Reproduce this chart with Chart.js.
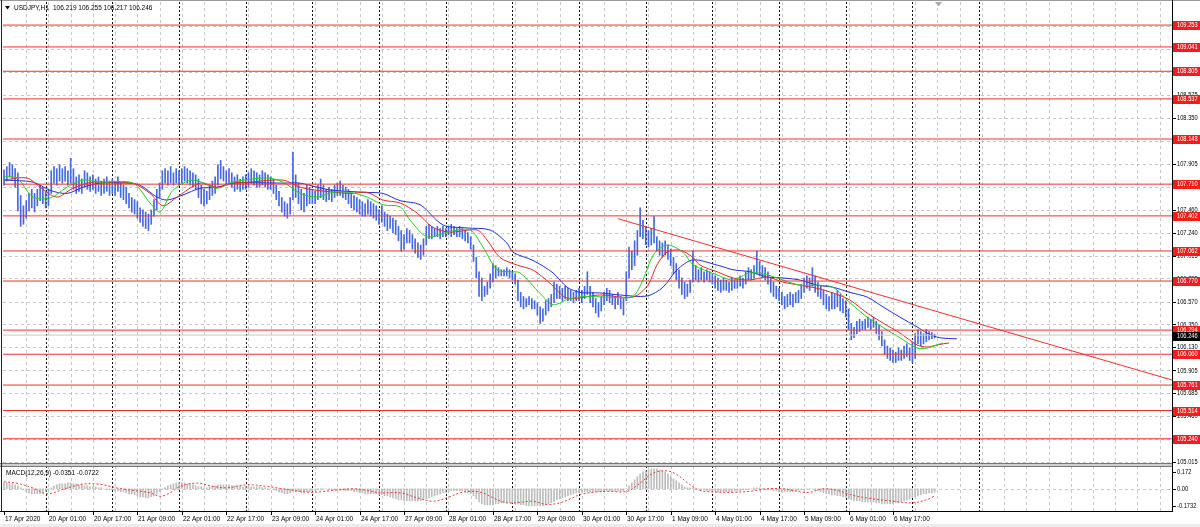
<!DOCTYPE html>
<html><head><meta charset="utf-8">
<script src="https://cdn.jsdelivr.net/npm/chart.js@4.4.1/dist/chart.umd.min.js"></script>
<style>
html,body{margin:0;padding:0;background:#fff;width:1200px;height:527px;overflow:hidden}
canvas{position:absolute;left:0;top:0}
</style></head><body>
<canvas id="main" width="1200" height="527"></canvas>
<canvas id="macd" width="1200" height="527"></canvas>
<script>
// ---------- DATA (H1 bars, index 0 = 17 Apr 2020 09:00) ----------
const symbolTitle = 'USDJPY,H1';
const lastOHLC = '106.219 106.255 106.217 106.246';
const macdTitle = 'MACD(12,26,9) -0.0351 -0.0722';

const highs = [
 107.85,107.88,107.92,107.90,107.86,107.82,107.60,107.50,107.55,107.62,107.66,107.62,107.66,107.70,107.68,
 107.64,107.66,107.84,107.88,107.86,107.90,107.86,107.88,107.84,107.96,107.86,107.78,107.80,107.76,107.84,107.82,107.78,107.80,107.76,107.78,107.74,107.76,107.78,107.74,
 107.76,107.74,107.78,107.72,107.70,107.68,107.62,107.58,107.56,107.54,107.48,107.46,107.44,107.42,107.46,107.56,107.66,107.72,107.84,107.86,107.84,107.88,107.82,107.86,
 107.84,107.86,107.88,107.86,107.84,107.82,107.80,107.76,107.70,107.66,107.64,107.70,107.74,107.78,107.90,107.94,107.88,107.84,107.86,107.82,107.78,107.80,107.76,107.78,
 107.80,107.82,107.86,107.84,107.82,107.80,107.84,107.82,107.80,107.78,107.76,107.70,107.64,107.58,107.54,107.52,107.58,108.02,107.80,107.72,107.66,107.62,107.70,107.68,
 107.66,107.64,107.70,107.76,107.70,107.66,107.68,107.66,107.70,107.72,107.74,107.70,107.68,107.66,107.62,107.60,107.58,107.56,107.54,107.52,107.56,107.54,107.52,107.50,
 107.46,107.50,107.44,107.42,107.40,107.38,107.36,107.30,107.26,107.22,107.28,107.26,107.22,107.18,107.14,107.12,107.18,107.30,107.32,107.30,107.28,107.30,107.28,107.30,
 107.28,107.30,107.32,107.30,107.28,107.30,107.28,107.26,107.24,107.20,107.12,107.00,106.86,106.80,106.72,106.76,106.84,106.94,106.92,106.90,106.88,106.88,106.90,106.88,
 106.86,106.84,106.78,106.66,106.62,106.60,106.62,106.60,106.58,106.56,106.52,106.50,106.58,106.60,106.64,106.76,106.74,106.72,106.70,106.72,106.70,106.68,106.66,106.68,
 106.70,106.68,106.72,106.86,106.72,106.66,106.60,106.56,106.62,106.66,106.70,106.68,106.64,106.62,106.66,106.62,106.60,106.86,107.10,107.06,107.16,107.26,107.48,107.36,
 107.30,107.26,107.28,107.40,107.20,107.16,107.14,107.16,107.12,107.08,107.00,106.94,106.88,106.80,106.76,106.74,106.78,107.06,106.92,106.88,106.90,106.86,106.88,106.86,
 106.84,106.82,106.80,106.78,106.80,106.78,106.76,106.80,106.78,106.80,106.82,106.80,106.86,106.90,106.88,106.92,107.06,106.96,106.92,106.90,106.86,106.80,106.76,106.72,
 106.70,106.66,106.62,106.64,106.66,106.64,106.66,106.68,106.74,106.80,106.82,106.80,106.90,106.82,106.76,106.72,106.68,106.64,106.62,106.66,106.64,106.68,106.64,106.60,
 106.58,106.50,106.36,106.32,106.38,106.40,106.38,106.40,106.42,106.40,106.42,106.38,106.34,106.28,106.20,106.14,106.12,106.10,106.08,106.12,106.10,106.14,106.16,106.12,
 106.18,106.26,106.30,106.28,106.26,106.30,106.28,106.27,106.255
];
const lows = [
 107.70,107.74,107.78,107.76,107.68,107.45,107.30,107.32,107.38,107.45,107.48,107.44,107.50,107.55,107.52,
 107.48,107.50,107.62,107.72,107.70,107.74,107.72,107.74,107.70,107.72,107.66,107.62,107.64,107.62,107.68,107.66,107.64,107.66,107.62,107.64,107.60,107.62,107.64,107.60,
 107.62,107.60,107.64,107.58,107.56,107.52,107.48,107.44,107.42,107.38,107.34,107.30,107.28,107.26,107.32,107.40,107.46,107.58,107.66,107.72,107.70,107.72,107.70,107.72,
 107.70,107.72,107.74,107.72,107.70,107.68,107.66,107.58,107.52,107.50,107.52,107.56,107.60,107.62,107.70,107.76,107.74,107.70,107.72,107.68,107.64,107.66,107.64,107.66,
 107.66,107.68,107.72,107.70,107.68,107.68,107.70,107.68,107.66,107.66,107.62,107.56,107.50,107.44,107.40,107.38,107.42,107.56,107.58,107.52,107.46,107.44,107.50,107.52,
 107.52,107.52,107.56,107.58,107.56,107.54,107.56,107.54,107.58,107.60,107.60,107.58,107.56,107.52,107.48,107.46,107.44,107.42,107.40,107.40,107.42,107.40,107.38,107.36,
 107.32,107.34,107.30,107.26,107.28,107.24,107.22,107.16,107.06,107.08,107.14,107.14,107.08,107.04,107.00,106.98,107.02,107.12,107.18,107.18,107.20,107.20,107.18,107.20,
 107.20,107.22,107.20,107.22,107.20,107.20,107.18,107.16,107.14,107.08,106.96,106.80,106.62,106.58,106.62,106.64,106.70,106.76,106.80,106.82,106.82,106.82,106.82,106.80,
 106.78,106.74,106.58,106.52,106.50,106.52,106.54,106.50,106.50,106.44,106.36,106.38,106.44,106.48,106.52,106.56,106.60,106.60,106.58,106.60,106.58,106.58,106.56,106.58,
 106.58,106.56,106.60,106.64,106.56,106.52,106.46,106.42,106.48,106.54,106.58,106.56,106.54,106.50,106.54,106.50,106.44,106.58,106.80,106.88,106.92,107.02,107.20,107.18,
 107.12,107.10,107.12,107.14,107.06,107.02,107.00,107.02,106.98,106.92,106.84,106.78,106.70,106.64,106.60,106.62,106.66,106.76,106.78,106.76,106.78,106.76,106.78,106.76,
 106.74,106.70,106.68,106.66,106.68,106.68,106.66,106.68,106.70,106.70,106.72,106.70,106.74,106.78,106.78,106.80,106.84,106.82,106.80,106.78,106.74,106.66,106.62,106.60,
 106.58,106.54,106.50,106.52,106.54,106.52,106.56,106.56,106.60,106.66,106.70,106.68,106.72,106.66,106.62,106.60,106.54,106.50,106.48,106.50,106.50,106.52,106.48,106.46,
 106.42,106.30,106.20,106.22,106.26,106.28,106.30,106.30,106.32,106.30,106.32,106.26,106.20,106.14,106.06,106.02,106.00,105.98,105.98,106.00,106.00,106.02,106.04,106.00,
 105.98,106.02,106.16,106.14,106.16,106.18,106.20,106.21,106.217
];

// Alligator (bar index, price)
const jawK = [0,10.4,16.6,22.7,28.4,34.6,44.3,49,55,58.7,64.4,70.6,76.7,82.4,100.4,106.6,112.7,118.4,130.7,136.4,142.6,149.8,158,166.7,175,181,183.2,190.4,197.6,202.7,207.3,214.5,221.7,231.5,237.2,242.3,248,256.7,262.4,268.5,274.7,280.4,286.5,292.7,298.4,304.5,310.7,316.4,322.5,328.7,332.3,336.9,343];
const jawV = [107.75,107.73,107.65,107.62,107.68,107.72,107.72,107.70,107.585,107.556,107.605,107.67,107.68,107.72,107.72,107.72,107.68,107.65,107.63,107.62,107.55,107.51,107.315,107.285,107.265,107.14,107.05,106.97,106.85,106.71,106.66,106.655,106.635,106.625,106.71,106.88,106.975,106.925,106.88,106.86,106.81,106.80,106.78,106.73,106.71,106.66,106.615,106.52,106.42,106.325,106.265,106.22,106.21];
const teethK = [0,8.3,13,19,24.8,32,40.7,46.4,52.6,57.2,62.3,70.6,76.7,82.4,88.6,100.4,106.6,112.7,124.5,130.7,136.4,142.6,148.7,154.4,160.5,170.3,173.9,178.5,184.7,190.4,196.5,202.7,214.5,226.4,231.8,235,238.7,243.3,248,250.5,256.7,262.4,268.5,274.7,280.4,286.5,292.7,298.4,304.5,310.7,316.4,322.5,328.7,332.3,335.9,340.2];
const teethV = [107.75,107.77,107.68,107.585,107.67,107.73,107.72,107.72,107.62,107.50,107.585,107.72,107.68,107.72,107.73,107.75,107.68,107.65,107.62,107.63,107.556,107.527,107.43,107.29,107.245,107.265,107.168,107.00,106.925,106.877,106.75,106.605,106.635,106.615,106.73,106.925,107.05,107.07,107.00,106.925,106.86,106.80,106.78,106.81,106.76,106.73,106.70,106.655,106.586,106.46,106.363,106.266,106.15,106.13,106.15,106.17];
const lipsK = [0,4.7,10.4,16.6,22.7,28.4,34.6,46.4,52.6,56.2,60.8,68,76.7,82.4,94.7,100.4,106.6,112.7,118.4,124.5,130.7,136.4,142.6,146.2,152.3,160.5,167.8,172.4,177.5,182.1,185.7,193,197.6,202.7,208.4,220.7,226.4,230,233.9,238.7,244.4,248,256.7,262.4,268.5,274.7,280.4,286.5,292.7,298.4,304.5,310.7,316.4,322.5,328.7,332.3,335.9,338];
const lipsV = [107.78,107.77,107.585,107.576,107.68,107.75,107.73,107.72,107.527,107.44,107.65,107.75,107.67,107.73,107.77,107.73,107.62,107.585,107.63,107.63,107.585,107.51,107.49,107.36,107.20,107.25,107.265,107.10,106.88,106.86,106.85,106.65,106.54,106.59,106.62,106.61,106.62,106.78,107.03,107.12,107.05,106.93,106.83,106.78,106.85,106.83,106.78,106.73,106.73,106.71,106.56,106.42,106.32,106.22,106.12,106.12,106.15,106.17];

// Horizontal levels, trend line and current price
const levels = [109.253,109.041,108.805,108.537,108.148,107.710,107.402,107.062,106.770,106.294,106.060,105.761,105.514,105.240];
const levelLabels = ['109.253','109.041','108.805','108.537','108.148','107.710','107.402','107.062','106.770','106.294','106.060','105.761','105.514','105.240'];
const currentPrice = 106.246;
const currentLabel = '106.246';
const trendK = [221, 420.45];
const trendV = [107.375, 105.81];

// MACD histogram (one value per bar) and signal line
const macdVals = [
 0.06,0.06,0.05,0.05,0.04,0.03,0.01,-0.01,
 -0.03,-0.04,-0.05,-0.05,-0.05,-0.05,-0.04,-0.03,
 -0.01,0.01,0.03,0.04,0.05,0.05,0.05,0.06,
 0.06,0.05,0.05,0.04,0.04,0.03,0.03,0.02,
 0.02,0.02,0.01,0.01,0.00,0.00,-0.01,-0.01,
 -0.02,-0.02,-0.03,-0.03,-0.04,-0.05,-0.05,-0.06,
 -0.07,-0.08,-0.08,-0.09,-0.09,-0.08,-0.07,-0.05,
 -0.03,-0.01,0.01,0.03,0.04,0.05,0.06,0.06,
 0.06,0.06,0.05,0.05,0.04,0.03,0.02,0.02,
 0.01,0.01,0.02,0.03,0.03,0.04,0.04,0.04,
 0.04,0.04,0.03,0.03,0.03,0.03,0.02,0.02,
 0.02,0.02,0.02,0.02,0.02,0.01,0.01,0.00,
 0.00,-0.01,-0.02,-0.03,-0.04,-0.05,-0.05,-0.04,
 -0.02,-0.03,-0.03,-0.04,-0.04,-0.03,-0.03,-0.02,
 -0.02,-0.01,-0.01,0.00,0.00,0.00,-0.01,-0.01,
 -0.01,-0.01,-0.01,-0.02,-0.02,-0.02,-0.03,-0.03,
 -0.04,-0.04,-0.05,-0.05,-0.05,-0.05,-0.05,-0.06,
 -0.06,-0.07,-0.07,-0.08,-0.09,-0.10,-0.11,-0.11,
 -0.12,-0.12,-0.12,-0.12,-0.12,-0.12,-0.12,-0.11,
 -0.10,-0.09,-0.08,-0.07,-0.06,-0.05,-0.04,-0.04,
 -0.03,-0.02,-0.02,-0.02,-0.02,-0.02,-0.03,-0.04,
 -0.05,-0.07,-0.10,-0.13,-0.15,-0.16,-0.16,-0.16,
 -0.16,-0.15,-0.15,-0.14,-0.14,-0.14,-0.14,-0.14,
 -0.15,-0.15,-0.16,-0.16,-0.17,-0.17,-0.17,-0.17,
 -0.17,-0.17,-0.17,-0.16,-0.15,-0.14,-0.13,-0.11,
 -0.10,-0.09,-0.08,-0.07,-0.06,-0.05,-0.04,-0.04,
 -0.03,-0.03,-0.03,-0.03,-0.03,-0.03,-0.03,-0.03,
 -0.03,-0.02,-0.02,-0.02,-0.02,-0.02,-0.02,-0.02,
 0.00,0.03,0.06,0.09,0.12,0.15,0.17,0.18,
 0.19,0.20,0.20,0.20,0.19,0.18,0.17,0.15,
 0.13,0.10,0.08,0.06,0.04,0.02,0.01,0.01,
 0.01,0.00,0.00,-0.01,-0.01,-0.02,-0.02,-0.02,
 -0.02,-0.03,-0.03,-0.03,-0.03,-0.03,-0.03,-0.02,
 -0.02,-0.02,-0.01,-0.01,0.00,0.00,0.01,0.01,
 0.01,0.00,0.00,-0.01,-0.01,-0.02,-0.02,-0.03,
 -0.03,-0.03,-0.03,-0.03,-0.03,-0.02,-0.02,-0.01,
 -0.01,0.00,0.00,0.00,-0.01,-0.02,-0.03,-0.04,
 -0.05,-0.05,-0.06,-0.06,-0.07,-0.07,-0.08,-0.09,
 -0.10,-0.11,-0.12,-0.12,-0.12,-0.13,-0.13,-0.13,
 -0.13,-0.13,-0.14,-0.14,-0.15,-0.15,-0.15,-0.15,
 -0.15,-0.14,-0.14,-0.13,-0.12,-0.11,-0.10,-0.09,
 -0.08,-0.07,-0.06,-0.05,-0.05,-0.04,-0.04,-0.035
];
const sigK = [0,4.7,10.4,15.5,22.7,28.4,34.6,40.7,46.4,52.6,56.2,59.8,63.4,69.5,75.2,80.3,87.5,94.7,100.4,106.6,111.2,118.4,125.6,130.7,135.3,142.6,148.7,154.4,159.5,164.1,168.8,172.4,176,181,185.7,190.4,195.5,200.1,204.8,207.3,212,217.1,224.3,229,233.6,238.7,242.3,247,250.5,256.7,262.4,268.5,274.7,280.4,286.5,290.1,294.8,299.9,305.6,312.8,320,327.2,332.3,335];
const sigV = [0.07,0.055,0.008,-0.05,0.008,0.047,0.045,0.008,-0.016,-0.04,-0.075,-0.04,0.024,0.057,0.024,0.01,0.04,0.024,0,-0.025,-0.035,-0.017,0,-0.016,-0.04,-0.041,-0.09,-0.124,-0.09,-0.041,-0.025,-0.041,-0.09,-0.14,-0.135,-0.124,-0.157,-0.14,-0.09,-0.057,-0.035,-0.025,-0.025,0.057,0.156,0.18,0.14,0.04,-0.016,-0.033,-0.035,-0.025,0,0,-0.03,-0.035,0,-0.016,-0.066,-0.1,-0.124,-0.14,-0.107,-0.0722];

// Axis ticks
const priceTicks = [105.015,105.240,105.460,105.685,105.905,106.130,106.350,106.570,106.795,107.015,107.240,107.460,107.685,107.905,108.130,108.350,108.575,108.795,109.020,109.240];
const priceTickLabels = ['105.015','105.240','105.460','105.685','105.905','106.130','106.350','106.570','106.795','107.015','107.240','107.460','107.685','107.905','108.130','108.350','108.575','108.795','109.020','109.240'];
const macdTicks = [0.172, 0, -0.1732];
const macdTickLabels = ['0.172','0.00','-0.1732'];
const timeK = [0,16,32,48,64,80,96,112,128,144,160,176,192,208,224,240,256,272,288,304,320];
const timeLabels = ['17 Apr 2020','20 Apr 01:00','20 Apr 17:00','21 Apr 09:00','22 Apr 01:00','22 Apr 17:00','23 Apr 09:00','24 Apr 01:00','24 Apr 17:00','27 Apr 09:00','28 Apr 01:00','28 Apr 17:00','29 Apr 09:00','30 Apr 01:00','30 Apr 17:00','1 May 09:00','4 May 01:00','4 May 17:00','5 May 09:00','6 May 01:00','6 May 17:00'];
const daySepK = [15,39,63,87,111,135,159,183,207,231,255,279,303,327,351];
const gridK = [8,16,24,32,40,48,56,64,72,80,88,96,104,112,120,128,136,144,152,160,168,176,184,192,200,208,216,224,232,240,248,256,264,272,280,288,296,304,312,320,328,336,344,352,360,368,376,384,392,400,408,416];

// ---------- rendering ----------
const X_MIN = -0.36, X_MAX = 420.45;
const Y_MIN = 105.005, Y_MAX = 109.477;
const M_MIN = -0.222, M_MAX = 0.228;
const FONT = '6.5px "Liberation Sans", Arial, sans-serif';
const GRID = '#c6c6c6';
const RIGHT = 1172;

function vline(ctx,x,y0,y1,color,dash){ctx.save();ctx.beginPath();ctx.setLineDash(dash||[]);ctx.strokeStyle=color;ctx.lineWidth=1;const xx=Math.round(x)+0.5;ctx.moveTo(xx,y0);ctx.lineTo(xx,y1);ctx.stroke();ctx.restore();}
function hline(ctx,y,x0,x1,color,dash){ctx.save();ctx.beginPath();ctx.setLineDash(dash||[]);ctx.strokeStyle=color;ctx.lineWidth=1;const yy=Math.round(y)+0.5;ctx.moveTo(x0,yy);ctx.lineTo(x1,yy);ctx.stroke();ctx.restore();}
function text(ctx,s,x,y,color,align,sx){ctx.save();ctx.font=FONT;ctx.fillStyle=color||'#000';ctx.textAlign=align||'left';ctx.textBaseline='middle';ctx.translate(x,y);ctx.scale(sx||1,1);ctx.fillText(s,0,0);ctx.restore();}
const pts = (ks,vs)=>ks.map((k,i)=>({x:k,y:vs[i]}));
const AX = 0.88; // narrower right-axis digits

const mainDecor = {
  id:'mainDecor',
  beforeDatasetsDraw(chart){
    const {ctx, chartArea:a, scales:{x,y}} = chart;
    priceTicks.forEach(v=>{const p=y.getPixelForValue(v); if(p>a.top && p<a.bottom) hline(ctx,p,a.left,a.right,GRID,[3,3]);});
    gridK.forEach(k=>vline(ctx,x.getPixelForValue(k),a.top,a.bottom,GRID,[3,3]));
    daySepK.forEach(k=>vline(ctx,x.getPixelForValue(k),a.top,a.bottom,'#111',[2,2]));
  },
  afterDraw(chart){
    const {ctx, chartArea:a, scales:{x,y}} = chart;
    ctx.save();
    ctx.fillStyle='#fff'; ctx.fillRect(RIGHT+1,0,1200-RIGHT-1,464);
    ctx.fillStyle='#9a9a9a'; ctx.fillRect(0,0,1200,1);
    ctx.fillStyle='#222'; ctx.fillRect(1,0,1,512);
    ctx.fillStyle='#000'; ctx.fillRect(RIGHT,0,1,512);
    priceTicks.forEach((v,i)=>{const p=y.getPixelForValue(v); ctx.fillStyle='#000'; ctx.fillRect(RIGHT+1,Math.round(p),3,1); text(ctx,priceTickLabels[i],RIGHT+5,p+0.5,'#000','left',AX);});
    levels.forEach((v,i)=>{const p=Math.round(y.getPixelForValue(v)); ctx.fillStyle='#f41c1c'; ctx.fillRect(RIGHT+1,p-4,28,9); text(ctx,levelLabels[i],RIGHT+5,p+0.5,'#fff','left',AX);});
    const cp=Math.round(y.getPixelForValue(currentPrice)); ctx.fillStyle='#000'; ctx.fillRect(RIGHT+1,cp-3,28,9); text(ctx,currentLabel,RIGHT+5,cp+1.5,'#fff','left',AX);
    // header
    ctx.fillStyle='#111'; ctx.beginPath(); ctx.moveTo(5,6); ctx.lineTo(10,6); ctx.lineTo(7.5,9.5); ctx.closePath(); ctx.fill();
    text(ctx,symbolTitle,14,8,'#000');
    text(ctx,lastOHLC,53,8,'#000');
    // chart shift marker
    ctx.fillStyle='#a8a8a8'; ctx.beginPath(); ctx.moveTo(935,2); ctx.lineTo(942,2); ctx.lineTo(938.5,6.5); ctx.closePath(); ctx.fill();
    ctx.restore();
  }
};

new Chart(document.getElementById('main'), {
  type:'line',
  data:{datasets:[
    ...levels.map(v=>({type:'line',data:[{x:X_MIN,y:v},{x:X_MAX,y:v}],borderColor:'#f03030',borderWidth:1,pointRadius:0,order:1})),
    {type:'line',data:[{x:X_MIN,y:currentPrice},{x:X_MAX,y:currentPrice}],borderColor:'#c8c8c8',borderWidth:1,pointRadius:0,order:1.5},
    {type:'line',data:pts(trendK,trendV),borderColor:'#f03030',borderWidth:1,pointRadius:0,order:1},
    {type:'line',data:pts(lipsK,lipsV),borderColor:'#22cc22',borderWidth:1,pointRadius:0,tension:0.3,order:2},
    {type:'line',data:pts(teethK,teethV),borderColor:'#e02828',borderWidth:1,pointRadius:0,tension:0.3,order:2},
    {type:'line',data:pts(jawK,jawV),borderColor:'#2030d8',borderWidth:1,pointRadius:0,tension:0.3,order:2},
    {type:'bar',data:highs.map((h,i)=>({x:i,y:[lows[i],h]})),backgroundColor:'#4668e0',barThickness:1,order:3}
  ]},
  options:{
    responsive:false, animation:false, devicePixelRatio:1, events:[],
    layout:{padding:{left:3,right:1200-RIGHT,top:2,bottom:64}},
    scales:{x:{type:'linear',offset:false,min:X_MIN,max:X_MAX,display:false},y:{type:'linear',min:Y_MIN,max:Y_MAX,display:false}},
    plugins:{legend:{display:false},tooltip:{enabled:false}}
  },
  plugins:[mainDecor]
});

const macdDecor = {
  id:'macdDecor',
  beforeDatasetsDraw(chart){
    const {ctx, chartArea:a, scales:{x,y}} = chart;
    gridK.forEach(k=>vline(ctx,x.getPixelForValue(k),a.top,a.bottom,GRID,[3,3]));
    daySepK.forEach(k=>vline(ctx,x.getPixelForValue(k),a.top,a.bottom,'#111',[2,2]));
    hline(ctx,y.getPixelForValue(0),a.left,a.right,GRID,[3,3]);
  },
  afterDraw(chart){
    const {ctx, chartArea:a, scales:{x,y}} = chart;
    ctx.save();
    ctx.fillStyle='#777'; ctx.fillRect(0,463,RIGHT+1,1); ctx.fillRect(0,466,RIGHT+1,1);
    ctx.fillStyle='#cfcfcf'; ctx.fillRect(0,464,RIGHT+1,2);
    ctx.fillStyle='#000'; ctx.fillRect(0,511,RIGHT+1,1); ctx.fillRect(RIGHT,463,1,49);
    ctx.fillStyle='#222'; ctx.fillRect(1,463,1,49);
    ctx.fillStyle='#ececec'; ctx.fillRect(0,524,1200,3);
    text(ctx,macdTitle,6,473,'#000');
    macdTicks.forEach((v,i)=>{const p=y.getPixelForValue(v); ctx.fillStyle='#000'; ctx.fillRect(RIGHT+1,Math.round(p),3,1); text(ctx,macdTickLabels[i],RIGHT+5,p+0.5,'#000','left',AX);});
    timeK.forEach((k,i)=>{const p=Math.round(x.getPixelForValue(k)); ctx.fillStyle='#000'; ctx.fillRect(p,512,1,3); text(ctx,timeLabels[i],p+1,519,'#000');});
    ctx.restore();
  }
};

new Chart(document.getElementById('macd'), {
  type:'line',
  data:{datasets:[
    {type:'line',data:pts(sigK,sigV),borderColor:'#e83c3c',borderWidth:1,borderDash:[2,2],pointRadius:0,tension:0.35,order:1},
    {type:'bar',data:macdVals.map((v,i)=>({x:i,y:v})),backgroundColor:'#bdbdbd',barThickness:1,order:2}
  ]},
  options:{
    responsive:false, animation:false, devicePixelRatio:1, events:[],
    layout:{padding:{left:3,right:1200-RIGHT,top:466,bottom:16}},
    scales:{x:{type:'linear',offset:false,min:X_MIN,max:X_MAX,display:false},y:{type:'linear',min:M_MIN,max:M_MAX,display:false}},
    plugins:{legend:{display:false},tooltip:{enabled:false}}
  },
  plugins:[macdDecor]
});
</script>
</body></html>
